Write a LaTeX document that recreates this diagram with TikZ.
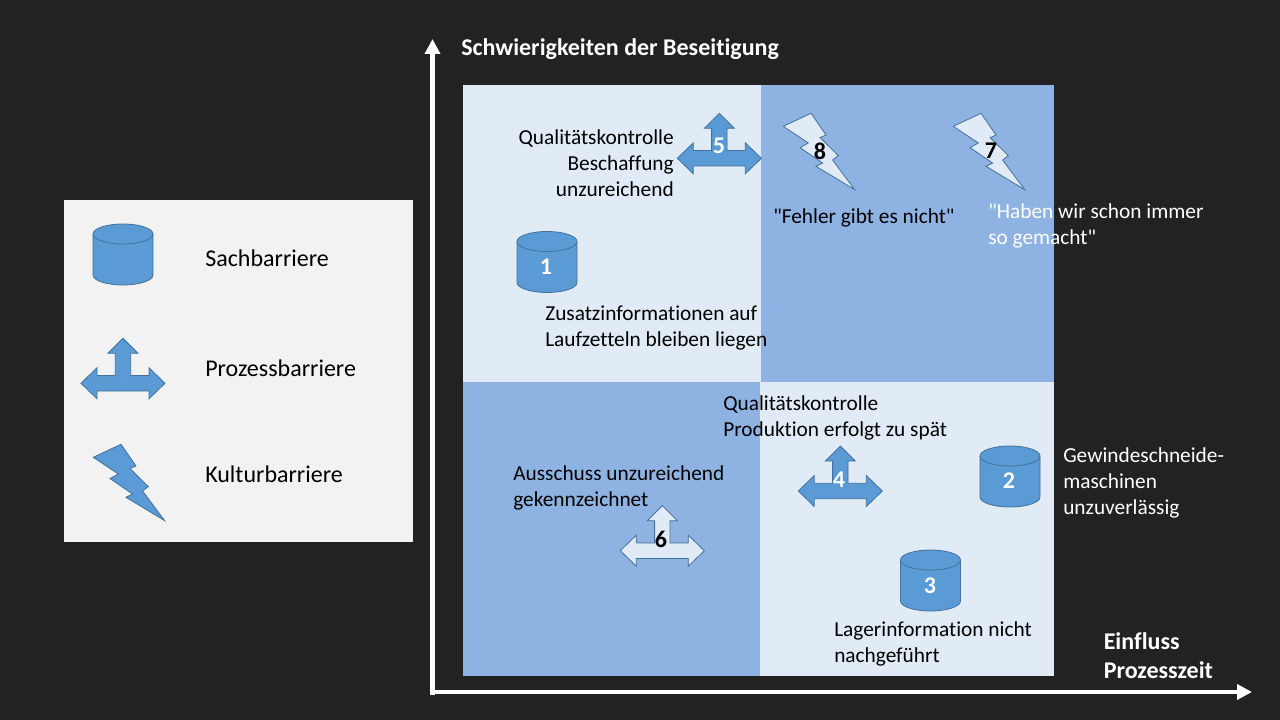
\documentclass[tikz,border=0pt]{standalone}
\usepackage{fontspec}
\newfontfamily\calib[Ligatures=NoCommon]{Carlito}
\usetikzlibrary{arrows.meta}
\definecolor{bgdark}{HTML}{222222}
\definecolor{panel}{HTML}{F2F2F2}
\definecolor{lightq}{HTML}{E1EBF6}
\definecolor{blueq}{HTML}{8EB3E2}
\definecolor{shapeblue}{HTML}{5B9BD5}
\definecolor{shapeline}{HTML}{41719C}
\tikzset{
  x=0.75pt,y=-0.75pt,
  txt/.style={inner sep=0pt,anchor=west,align=left,font=\calib\fontsize{16}{19.5}\selectfont,text=black},
  txtw/.style={txt,text=white},
  txtr/.style={txt,anchor=east,align=right},
  leg/.style={txt,font=\calib\fontsize{18}{21}\selectfont},
  head/.style={txt,text=white,font=\calib\fontsize{18}{21.5}\selectfont\bfseries},
  num/.style={inner sep=0pt,font=\calib\fontsize{18}{21}\selectfont\bfseries,text=white},
  numk/.style={num,text=black},
  axisline/.style={draw=white,line width=3.2pt,-{Triangle[length=11.25pt,width=11.25pt]}},
  sym/.style={draw=shapeline,line width=0.6pt,fill=shapeblue,line join=miter},
  symlight/.style={sym,fill=lightq},
  pics/cyl/.style={code={
    \path[sym] (-30,-20.5) -- (-30,20.5) arc[x radius=30,y radius=10,start angle=180,end angle=0] -- (30,-20.5) arc[x radius=30,y radius=10,start angle=0,end angle=-180] -- cycle;
    \draw[draw=shapeline,line width=0.6pt] (-30,-20.5) arc[x radius=30,y radius=10,start angle=180,end angle=0];
  }},
  pics/tri/.style={code={
    \path[#1] (0,-45) -- (15,-30) -- (7.7,-30) -- (7.7,-7.7) -- (26,-7.7) -- (26,-15.5) -- (42,0) -- (26,15.5) -- (26,7.7) -- (-26,7.7) -- (-26,15.5) -- (-42,0) -- (-26,-15.5) -- (-26,-7.7) -- (-7.7,-7.7) -- (-7.7,-30) -- (-15,-30) -- cycle;
  }},
  pics/bolt/.style={code={
    \path[#1] (27.7,0) -- (42.7,21.7) -- (36.7,24.3) -- (55,42.3) -- (49.3,46.7) -- (71.3,76.3) -- (32.7,53) -- (39.3,49.7) -- (16.7,34.3) -- (25,29.7) -- (0,13) -- cycle;
  }}
}
\begin{document}
\begin{tikzpicture}
\useasboundingbox (0,0) rectangle (1280,720);
\fill[bgdark] (0,0) rectangle (1280,720);
% legend
\fill[panel] (64,200) rectangle (413,542);
% quadrants
\fill[lightq] (463,85) rectangle (761,382);
\fill[blueq] (761,85) rectangle (1054,382);
\fill[blueq] (463,382) rectangle (760,676);
\fill[lightq] (760,382) rectangle (1054,676);
% axes
\coordinate (ytip) at (432.5,39);
\coordinate (xtip) at (1252,692);
\coordinate (ystart) at (432.5,695);
\coordinate (xstart) at (430,692);
\draw[axisline] (ystart) -- (ytip);
\draw[axisline] (xstart) -- (xtip);
% legend symbols
\pic at (123,254.5) {cyl};
\pic at (123,383.3) {tri=sym};
\pic at (93.3,444.3) {bolt=sym};
\node[leg] (lsach) at (205,258) {Sachbarriere};
\node[leg] (lproz) at (205,368) {Prozessbarriere};
\node[leg] (lkult) at (205,474) {Kulturbarriere};
% symbols
\pic at (547,262) {cyl};
\node[num] (n1) at (546,267) {1};
\pic at (1010,476.5) {cyl};
\node[num] (n2) at (1009,481) {2};
\pic at (930.5,580.5) {cyl};
\node[num] (n3) at (930,586) {3};
\pic at (840.3,491) {tri=sym};
\node[num] (n4) at (839,480) {4};
\pic at (719.3,158.3) {tri=sym};
\node[num] (n5) at (719,146) {5};
\pic at (662.3,550.7) {tri=symlight};
\node[numk] (n6) at (661,539) {6};
\pic at (953.3,113.3) {bolt=symlight};
\node[numk] (n7) at (991,151) {7};
\pic at (783.3,113.3) {bolt=symlight};
\node[numk] (n8) at (820,151) {8};
% labels
\node[head,anchor=west] (ty) at (461,49.5) {Schwierigkeiten der Beseitigung};
\node[head,anchor=west] (tx) at (1103.5,655.5) {Einfluss\\Prozesszeit};
\node[txtr] (t5) at (674,163) {Qualitätskontrolle\\Beschaffung\\unzureichend};
\node[txt] (t8) at (773,218) {"Fehler gibt es nicht"};
\node[txtw] (t7) at (988,226) {"Haben wir schon immer\\so gemacht"};
\node[txt] (t1) at (545,327.5) {Zusatzinformationen auf\\Laufzetteln bleiben liegen};
\node[txt] (t4) at (723,417.5) {Qualitätskontrolle\\Produktion erfolgt zu spät};
\node[txt] (t6) at (513,488) {Ausschuss unzureichend\\gekennzeichnet};
\node[txtw] (t2) at (1063,482.5) {Gewindeschneide-\\maschinen\\unzuverlässig};
\node[txt] (t3) at (834,644) {Lagerinformation nicht\\nachgeführt};
\end{tikzpicture}
\end{document}
